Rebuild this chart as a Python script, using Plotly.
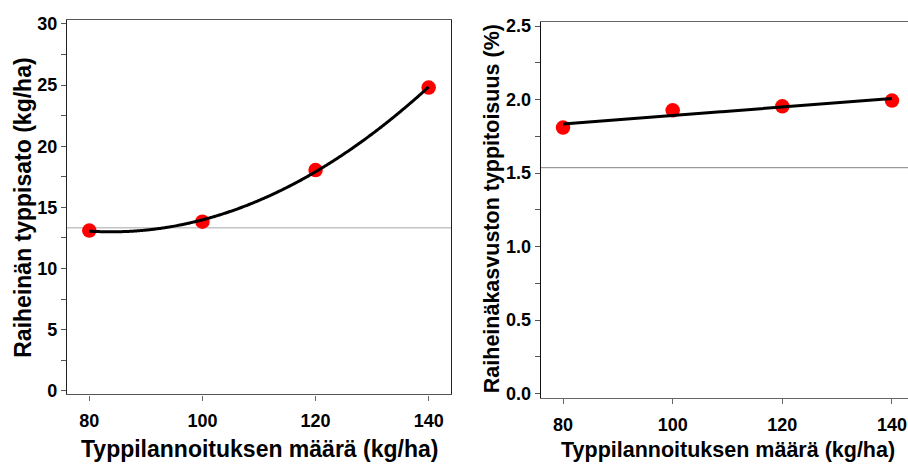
import numpy as np
import plotly.graph_objects as go

# Data
n_rate = [80, 100, 120, 140]                 # Typpilannoituksen määrä (kg/ha)
n_yield = [13.1, 13.83, 18.05, 24.8]         # Raiheinän typpisato (kg/ha)
n_content = [1.81, 1.927, 1.954, 1.993]      # Raiheinäkasvuston typpitoisuus (%)
ref_yield = 13.33                            # grey reference line, left panel
ref_content = 1.537                          # grey reference line, right panel

left_yticks = [0, 5, 10, 15, 20, 25, 30]
right_yticks = [0.0, 0.5, 1.0, 1.5, 2.0, 2.5]
xticks = [80, 100, 120, 140]

FONT = "Liberation Sans, Arial, sans-serif"

# Regression fits (quadratic for yield, linear for content)
xs = np.linspace(min(n_rate), max(n_rate), 241)
c2 = np.polyfit(n_rate, n_yield, 2)
c1 = np.polyfit(n_rate, n_content, 1)

fig = go.Figure()

fig.add_trace(go.Scatter(x=n_rate, y=n_yield, mode="markers",
                         marker=dict(color="#ff0000", size=14.5), xaxis="x", yaxis="y",
                         showlegend=False))
fig.add_trace(go.Scatter(x=xs, y=np.polyval(c2, xs), mode="lines",
                         line=dict(color="black", width=3, shape="spline"), xaxis="x", yaxis="y",
                         showlegend=False))
fig.add_trace(go.Scatter(x=n_rate, y=n_content, mode="markers",
                         marker=dict(color="#ff0000", size=14.5), xaxis="x2", yaxis="y2",
                         showlegend=False))
fig.add_trace(go.Scatter(x=xs, y=np.polyval(c1, xs), mode="lines",
                         line=dict(color="black", width=3), xaxis="x2", yaxis="y2",
                         showlegend=False))

tickfont = dict(family=FONT, size=18, color="black", weight="bold")

fig.add_shape(type="line", xref="x domain", yref="y", x0=0, x1=1,
              y0=ref_yield, y1=ref_yield, line=dict(color="#c4c4c4", width=1.5), layer="below")
fig.add_shape(type="line", xref="x2 domain", yref="y2", x0=0, x1=1,
              y0=ref_content, y1=ref_content, line=dict(color="#9a9a9a", width=1.2), layer="below")

fig.update_layout(
    width=908, height=468,
    margin=dict(l=0, r=0, t=0, b=0),
    paper_bgcolor="white", plot_bgcolor="white",
    xaxis=dict(domain=[0.0738, 0.4967], range=[76.06, 143.95], anchor="y",
               tickvals=xticks, ticks="outside", ticklen=5, tickcolor="#666",
               showline=True, linecolor="#555", linewidth=1.3, mirror=True,
               showgrid=False, zeroline=False, tickfont=tickfont, ticklabelstandoff=5),
    yaxis=dict(domain=[0.1464, 0.970], range=[-0.3, 30.35], anchor="x",
               tickvals=left_yticks, ticks="outside", ticklen=5, tickcolor="#555",
               minor=dict(ticks="outside", dtick=2.5, tick0=0, ticklen=5, tickcolor="#555"),
               showline=True, linecolor="#222", linewidth=1.3, mirror=True,
               showgrid=False, zeroline=False, tickfont=tickfont, ticklabelstandoff=0),
    xaxis2=dict(domain=[0.5955, 1.0], range=[75.93, 142.92], anchor="y2",
                tickvals=xticks, ticks="outside", ticklen=5, tickcolor="#666",
                showline=True, linecolor="#666", linewidth=1.3, mirror=True,
                showgrid=False, zeroline=False, tickfont=tickfont, ticklabelstandoff=5),
    yaxis2=dict(domain=[0.1382, 0.9643], range=[-0.03, 2.526], anchor="x2",
                tickvals=right_yticks, tickformat=".1f", ticks="outside", ticklen=5,
                tickcolor="#555",
                minor=dict(ticks="outside", dtick=0.25, tick0=0, ticklen=5, tickcolor="#555"),
                showline=True, linecolor="#111", linewidth=1.3, mirror=False,
                showgrid=False, zeroline=False, tickfont=tickfont, ticklabelstandoff=0),
)

titlefont_l = dict(family=FONT, size=23, color="black", weight="bold")
titlefont_r = dict(family=FONT, size=21.5, color="black", weight="bold")

fig.add_annotation(text="Raiheinän typpisato (kg/ha)", xref="paper", yref="paper",
                   x=23 / 908, y=1 - 207.5 / 468, textangle=-90, showarrow=False,
                   xanchor="center", yanchor="middle", font=titlefont_l)
fig.add_annotation(text="Typpilannoituksen määrä (kg/ha)", xref="paper", yref="paper",
                   x=259 / 908, y=1 - 456 / 468, showarrow=False,
                   xanchor="center", yanchor="middle", font=titlefont_l)
fig.add_annotation(text="Raiheinäkasvuston typpitoisuus (%)", xref="paper", yref="paper",
                   x=492 / 908, y=1 - 209 / 468, textangle=-90, showarrow=False,
                   xanchor="center", yanchor="middle", font=titlefont_r)
fig.add_annotation(text="Typpilannoituksen määrä (kg/ha)", xref="paper", yref="paper",
                   x=727.5 / 908, y=1 - 457 / 468, showarrow=False,
                   xanchor="center", yanchor="middle", font=titlefont_r)

fig.write_html("out.html")
